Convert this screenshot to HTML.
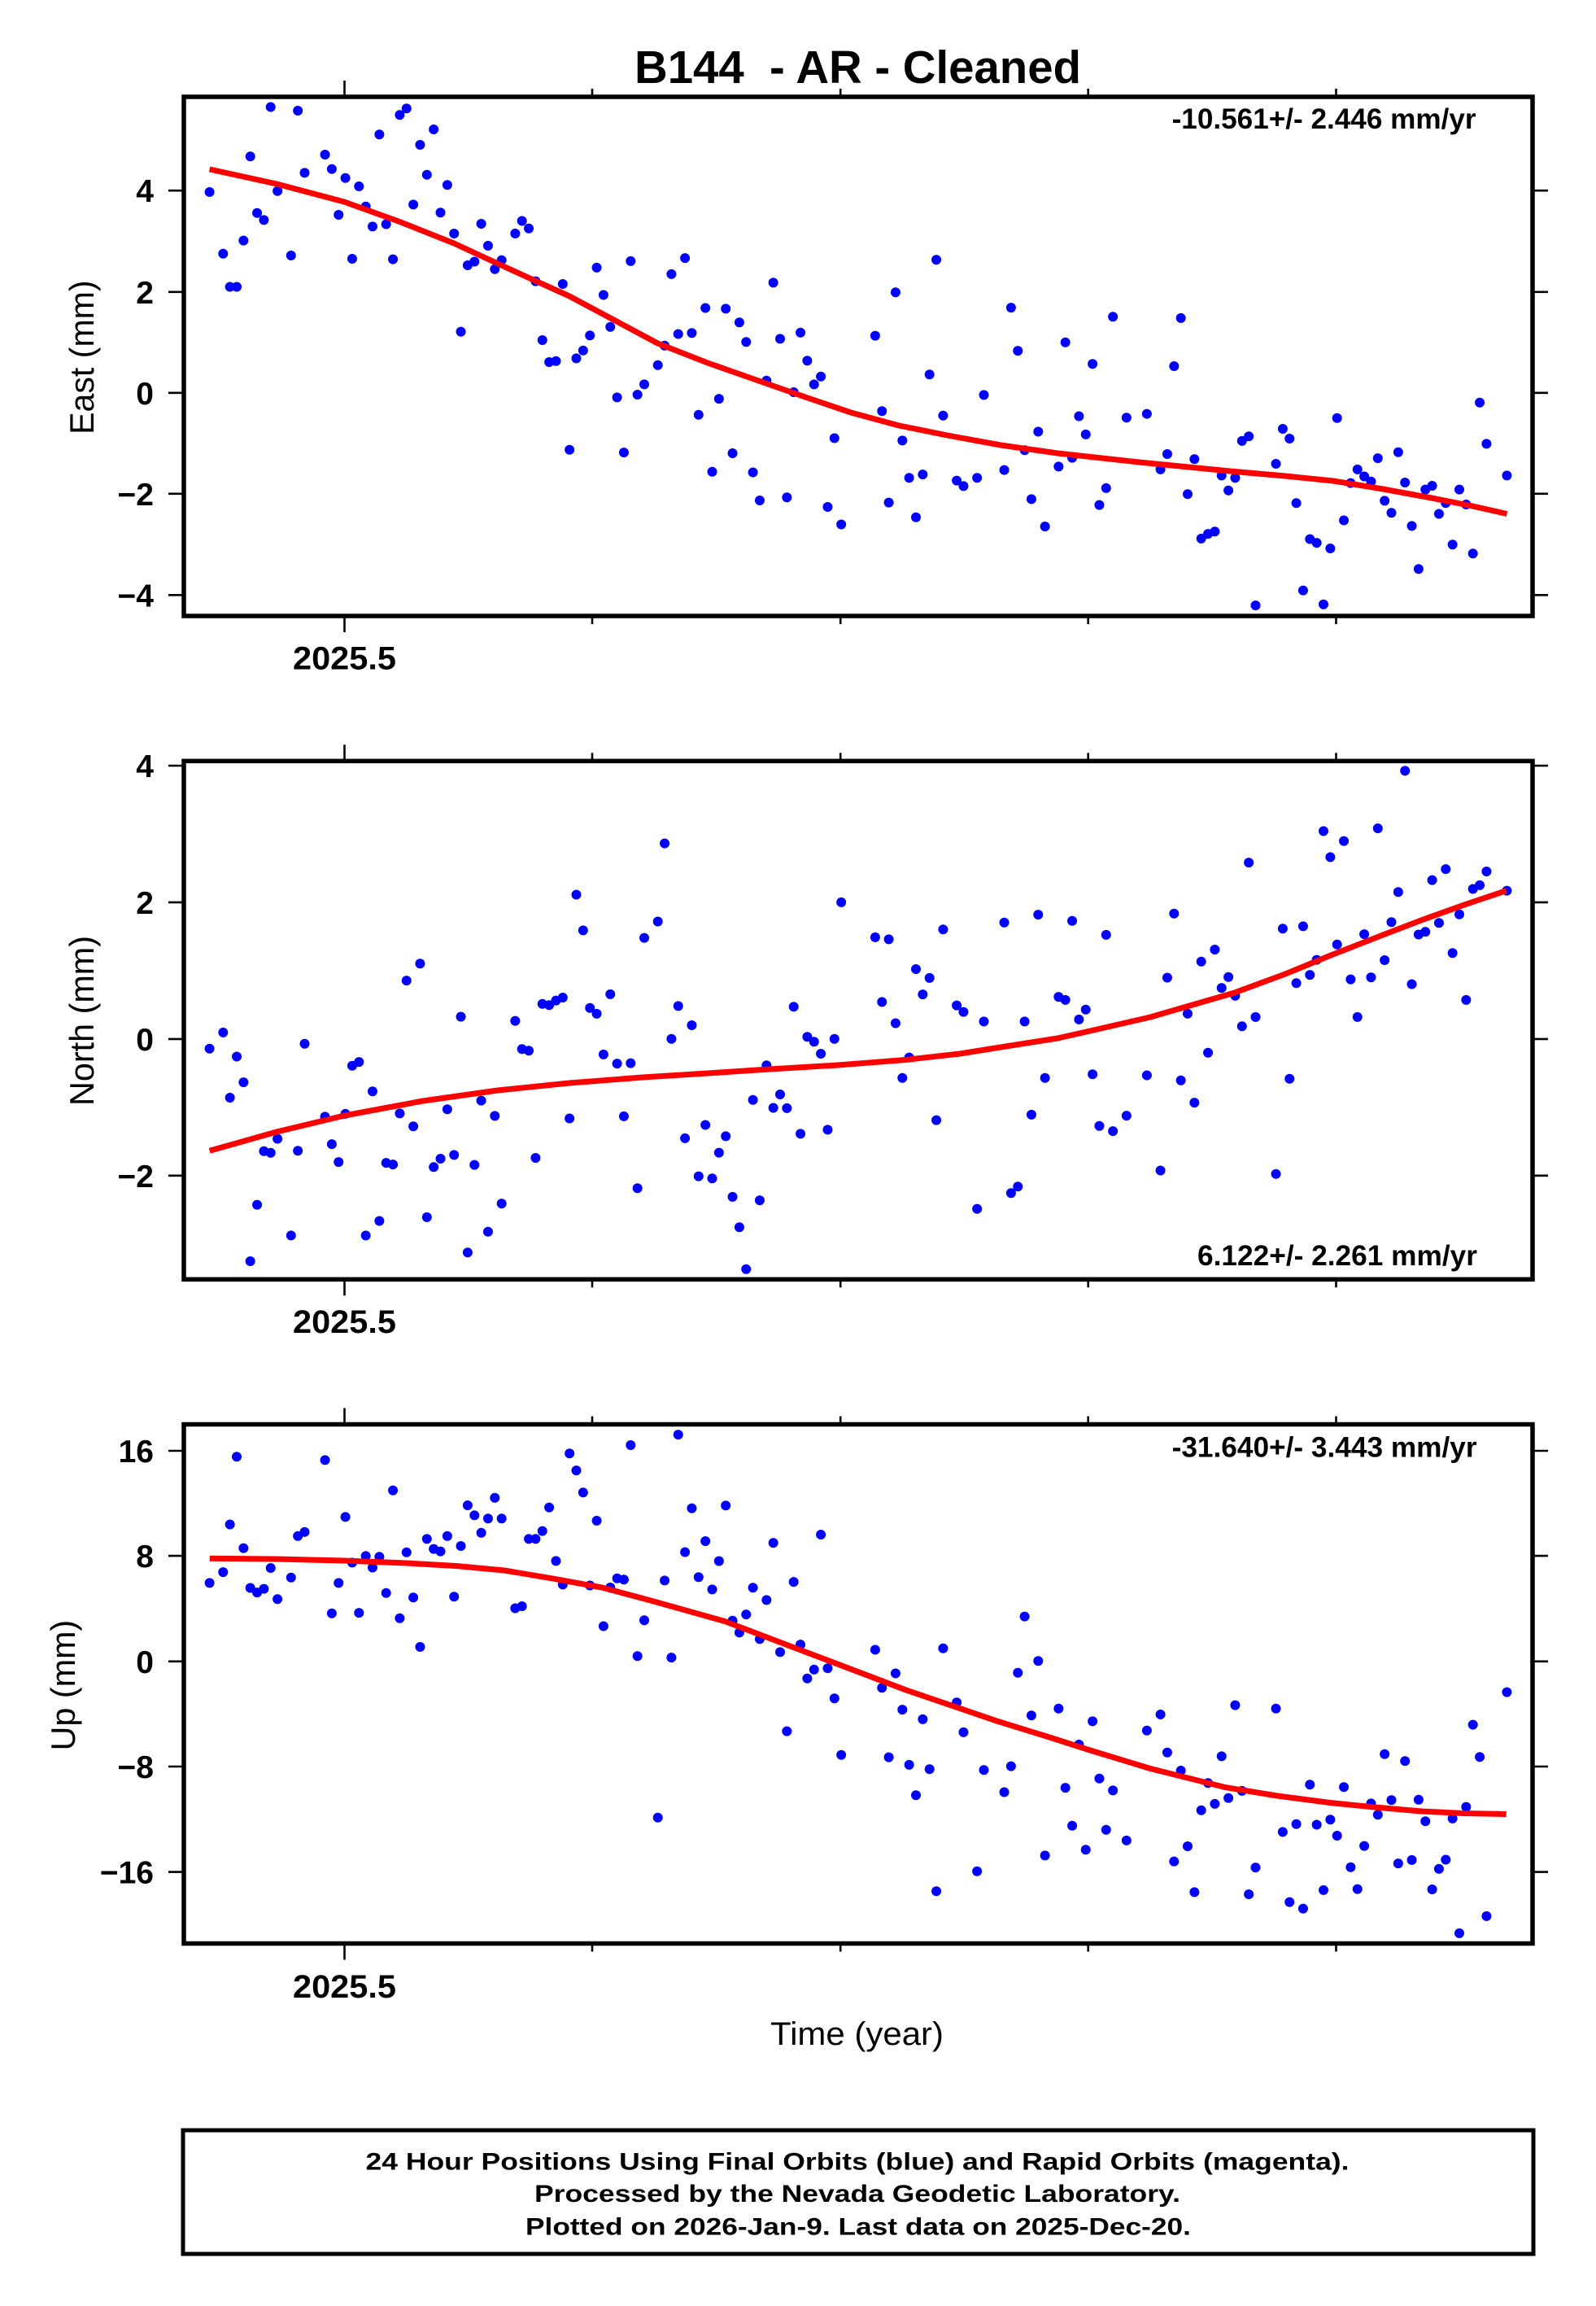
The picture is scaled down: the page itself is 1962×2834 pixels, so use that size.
<!DOCTYPE html>
<html><head><meta charset="utf-8"><style>
html,body{margin:0;padding:0;background:#fff;}
svg{display:block;}
text{font-family:"Liberation Sans",Arial,sans-serif;fill:#000;}
.b{font-weight:bold;}
.d circle{fill:#0000ff;}
.fit{fill:none;stroke:#ff0000;stroke-width:7;stroke-linejoin:round;stroke-linecap:butt;}
.fr{fill:none;stroke:#000;stroke-width:5.5;}
.tk{stroke:#000;stroke-width:2.6;fill:none;}
.yl{font-size:39px;font-weight:bold;text-anchor:end;}
</style></head><body>
<svg width="1962" height="2834" viewBox="0 0 1962 2834" xmlns="http://www.w3.org/2000/svg">
<rect width="1962" height="2834" fill="#fff"/>
<text class="b" x="780" y="102" font-size="57" textLength="549" lengthAdjust="spacingAndGlyphs">B144&#160; - AR - Cleaned</text>

<!-- ============ PANEL 1 ============ -->
<g class="d">
<circle cx="257.6" cy="236" r="6"/><circle cx="274.3" cy="311.7" r="6"/><circle cx="282.65" cy="352.5" r="6"/><circle cx="291" cy="352.5" r="6"/><circle cx="299.35" cy="295.6" r="6"/><circle cx="307.7" cy="192.3" r="6"/><circle cx="316.05" cy="261.8" r="6"/><circle cx="324.4" cy="270.4" r="6"/><circle cx="332.75" cy="131.5" r="6"/><circle cx="341.1" cy="234.8" r="6"/><circle cx="357.8" cy="314" r="6"/><circle cx="366.15" cy="136" r="6"/><circle cx="374.5" cy="212.4" r="6"/><circle cx="399.55" cy="190" r="6"/><circle cx="407.9" cy="207.8" r="6"/><circle cx="416.25" cy="264" r="6"/><circle cx="424.6" cy="218.7" r="6"/><circle cx="432.95" cy="318" r="6"/><circle cx="441.3" cy="229" r="6"/><circle cx="449.65" cy="253.7" r="6"/><circle cx="458" cy="278.4" r="6"/><circle cx="466.35" cy="165.3" r="6"/><circle cx="474.7" cy="275.5" r="6"/><circle cx="483.05" cy="318.6" r="6"/><circle cx="491.4" cy="141.2" r="6"/><circle cx="499.75" cy="133.2" r="6"/><circle cx="508.1" cy="251.4" r="6"/><circle cx="516.45" cy="178" r="6"/><circle cx="524.8" cy="214.7" r="6"/><circle cx="533.15" cy="159" r="6"/><circle cx="541.5" cy="261.2" r="6"/><circle cx="549.85" cy="227.3" r="6"/><circle cx="558.2" cy="287" r="6"/><circle cx="566.55" cy="407.6" r="6"/><circle cx="574.9" cy="326" r="6"/><circle cx="583.25" cy="321.5" r="6"/><circle cx="591.6" cy="275" r="6"/><circle cx="599.95" cy="302" r="6"/><circle cx="608.3" cy="330.7" r="6"/><circle cx="616.65" cy="319.8" r="6"/><circle cx="633.35" cy="287" r="6"/><circle cx="641.7" cy="271.5" r="6"/><circle cx="650.05" cy="280.7" r="6"/><circle cx="658.4" cy="345.6" r="6"/><circle cx="666.75" cy="418" r="6"/><circle cx="675.1" cy="445" r="6"/><circle cx="683.45" cy="443.7" r="6"/><circle cx="691.8" cy="349" r="6"/><circle cx="700.15" cy="552.8" r="6"/><circle cx="708.5" cy="440.4" r="6"/><circle cx="716.85" cy="430.7" r="6"/><circle cx="725.2" cy="412.2" r="6"/><circle cx="733.55" cy="328.9" r="6"/><circle cx="741.9" cy="362.5" r="6"/><circle cx="750.25" cy="401.7" r="6"/><circle cx="758.6" cy="488.4" r="6"/><circle cx="766.95" cy="556.1" r="6"/><circle cx="775.3" cy="320.9" r="6"/><circle cx="783.65" cy="485" r="6"/><circle cx="792" cy="472.4" r="6"/><circle cx="808.7" cy="448.8" r="6"/><circle cx="817.05" cy="424.8" r="6"/><circle cx="825.4" cy="336.9" r="6"/><circle cx="833.75" cy="410.5" r="6"/><circle cx="842.1" cy="317.1" r="6"/><circle cx="850.45" cy="409.2" r="6"/><circle cx="858.8" cy="509.8" r="6"/><circle cx="867.15" cy="378.5" r="6"/><circle cx="875.5" cy="579.7" r="6"/><circle cx="883.85" cy="490.1" r="6"/><circle cx="892.2" cy="379.4" r="6"/><circle cx="900.55" cy="557" r="6"/><circle cx="908.9" cy="396.2" r="6"/><circle cx="917.25" cy="420.2" r="6"/><circle cx="925.6" cy="580.5" r="6"/><circle cx="933.95" cy="615" r="6"/><circle cx="942.3" cy="467.7" r="6"/><circle cx="950.65" cy="347.4" r="6"/><circle cx="959" cy="416.4" r="6"/><circle cx="967.35" cy="611.3" r="6"/><circle cx="975.7" cy="482" r="6"/><circle cx="984.05" cy="408.8" r="6"/><circle cx="992.4" cy="443.3" r="6"/><circle cx="1000.75" cy="472.4" r="6"/><circle cx="1009.1" cy="462.7" r="6"/><circle cx="1017.45" cy="623" r="6"/><circle cx="1025.8" cy="538.5" r="6"/><circle cx="1034.15" cy="644.5" r="6"/><circle cx="1075.9" cy="412.6" r="6"/><circle cx="1084.25" cy="505.2" r="6"/><circle cx="1092.6" cy="617.6" r="6"/><circle cx="1100.95" cy="359.2" r="6"/><circle cx="1109.3" cy="541.4" r="6"/><circle cx="1117.65" cy="587.3" r="6"/><circle cx="1126" cy="635.7" r="6"/><circle cx="1134.35" cy="583.1" r="6"/><circle cx="1142.7" cy="460.2" r="6"/><circle cx="1151.05" cy="319.2" r="6"/><circle cx="1159.4" cy="510.7" r="6"/><circle cx="1176.1" cy="590.6" r="6"/><circle cx="1184.45" cy="597.4" r="6"/><circle cx="1201.15" cy="587.3" r="6"/><circle cx="1209.5" cy="485.4" r="6"/><circle cx="1234.55" cy="577.6" r="6"/><circle cx="1242.9" cy="378.1" r="6"/><circle cx="1251.25" cy="431.1" r="6"/><circle cx="1259.6" cy="553.2" r="6"/><circle cx="1267.95" cy="613.4" r="6"/><circle cx="1276.3" cy="530.5" r="6"/><circle cx="1284.65" cy="647" r="6"/><circle cx="1301.35" cy="573.4" r="6"/><circle cx="1309.7" cy="420.7" r="6"/><circle cx="1318.05" cy="562.6" r="6"/><circle cx="1326.4" cy="511.5" r="6"/><circle cx="1334.75" cy="533.9" r="6"/><circle cx="1343.1" cy="447.2" r="6"/><circle cx="1351.45" cy="620.6" r="6"/><circle cx="1359.8" cy="599.9" r="6"/><circle cx="1368.15" cy="389.2" r="6"/><circle cx="1384.85" cy="513.2" r="6"/><circle cx="1409.9" cy="508.6" r="6"/><circle cx="1426.6" cy="576.9" r="6"/><circle cx="1434.95" cy="558" r="6"/><circle cx="1443.3" cy="450" r="6"/><circle cx="1451.65" cy="390.9" r="6"/><circle cx="1460" cy="607.3" r="6"/><circle cx="1468.35" cy="564.3" r="6"/><circle cx="1476.7" cy="661.9" r="6"/><circle cx="1485.05" cy="656.1" r="6"/><circle cx="1493.4" cy="653.3" r="6"/><circle cx="1501.75" cy="584.4" r="6"/><circle cx="1510.1" cy="602.8" r="6"/><circle cx="1518.45" cy="587.3" r="6"/><circle cx="1526.8" cy="541.9" r="6"/><circle cx="1535.15" cy="536.2" r="6"/><circle cx="1543.5" cy="744" r="6"/><circle cx="1568.55" cy="570" r="6"/><circle cx="1576.9" cy="527" r="6"/><circle cx="1585.25" cy="539" r="6"/><circle cx="1593.6" cy="618.3" r="6"/><circle cx="1601.95" cy="725.6" r="6"/><circle cx="1610.3" cy="662.5" r="6"/><circle cx="1618.65" cy="667.1" r="6"/><circle cx="1627" cy="742.8" r="6"/><circle cx="1635.35" cy="674" r="6"/><circle cx="1643.7" cy="513.8" r="6"/><circle cx="1652.05" cy="639.5" r="6"/><circle cx="1660.4" cy="593.6" r="6"/><circle cx="1668.75" cy="576.9" r="6"/><circle cx="1677.1" cy="585.5" r="6"/><circle cx="1685.45" cy="591.8" r="6"/><circle cx="1693.8" cy="563.1" r="6"/><circle cx="1702.15" cy="615.4" r="6"/><circle cx="1710.5" cy="630.3" r="6"/><circle cx="1718.85" cy="555.7" r="6"/><circle cx="1727.2" cy="593" r="6"/><circle cx="1735.55" cy="646.4" r="6"/><circle cx="1743.9" cy="699.2" r="6"/><circle cx="1752.25" cy="601.6" r="6"/><circle cx="1760.6" cy="597" r="6"/><circle cx="1768.95" cy="631.5" r="6"/><circle cx="1777.3" cy="618.3" r="6"/><circle cx="1785.65" cy="669.3" r="6"/><circle cx="1794" cy="601.6" r="6"/><circle cx="1802.35" cy="620" r="6"/><circle cx="1810.7" cy="680.2" r="6"/><circle cx="1819.05" cy="494.8" r="6"/><circle cx="1827.4" cy="545.4" r="6"/><circle cx="1852.45" cy="584.4" r="6"/>
</g>
<polyline class="fit" points="257.6,208 340,226 423,248 490,272 558,299 625,330 700,364 760,396 808.6,422 870,446 927,466 990,488 1046,507 1105,523 1164.5,535 1230,547 1300,557 1400,568 1512,579 1580,585 1639,591 1700,601 1760,612 1808,621.5 1852.5,631.5"/>
<rect class="fr" x="226" y="119" width="1658" height="638"/>
<path class="tk" d="M423.5 119V99M728 119V109M1033.2 119V109M1337.7 119V109M1642.5 119V109M423.5 757V777M728 757V767M1033.2 757V767M1337.7 757V767M1642.5 757V767M226 234.2H207M226 358.8H207M226 482.8H207M226 606.8H207M226 731.3H207M1884 234.2H1903M1884 358.8H1903M1884 482.8H1903M1884 606.8H1903M1884 731.3H1903"/>
<text class="yl" x="189" y="248.2">4</text>
<text class="yl" x="189" y="372.8">2</text>
<text class="yl" x="189" y="496.8">0</text>
<text class="yl" x="189" y="620.8">−2</text>
<text class="yl" x="189" y="745.3">−4</text>
<text class="b" x="360" y="822.6" font-size="40" textLength="127" lengthAdjust="spacingAndGlyphs">2025.5</text>
<text transform="translate(115,533.9) rotate(-90)" x="0" y="0" font-size="42" textLength="189.5" lengthAdjust="spacingAndGlyphs">East (mm)</text>
<text class="b" x="1440.6" y="158" font-size="35" textLength="374" lengthAdjust="spacingAndGlyphs">-10.561+/- 2.446 mm/yr</text>

<!-- ============ PANEL 2 ============ -->
<g class="d">
<circle cx="257.6" cy="1288.8" r="6"/><circle cx="274.3" cy="1268.9" r="6"/><circle cx="282.65" cy="1349" r="6"/><circle cx="291" cy="1298.5" r="6"/><circle cx="299.35" cy="1330.1" r="6"/><circle cx="307.7" cy="1550" r="6"/><circle cx="316.05" cy="1480.6" r="6"/><circle cx="324.4" cy="1414.8" r="6"/><circle cx="332.75" cy="1416.8" r="6"/><circle cx="341.1" cy="1399.5" r="6"/><circle cx="357.8" cy="1518.4" r="6"/><circle cx="366.15" cy="1414.3" r="6"/><circle cx="374.5" cy="1282.7" r="6"/><circle cx="399.55" cy="1372.4" r="6"/><circle cx="407.9" cy="1406.1" r="6"/><circle cx="416.25" cy="1428.1" r="6"/><circle cx="424.6" cy="1368.9" r="6"/><circle cx="432.95" cy="1309.7" r="6"/><circle cx="441.3" cy="1305.1" r="6"/><circle cx="449.65" cy="1518.4" r="6"/><circle cx="458" cy="1341.3" r="6"/><circle cx="466.35" cy="1500.5" r="6"/><circle cx="474.7" cy="1429.1" r="6"/><circle cx="483.05" cy="1431.1" r="6"/><circle cx="491.4" cy="1368.4" r="6"/><circle cx="499.75" cy="1205.1" r="6"/><circle cx="508.1" cy="1384.2" r="6"/><circle cx="516.45" cy="1184.2" r="6"/><circle cx="524.8" cy="1495.9" r="6"/><circle cx="533.15" cy="1434.2" r="6"/><circle cx="541.5" cy="1424" r="6"/><circle cx="549.85" cy="1363.3" r="6"/><circle cx="558.2" cy="1419.4" r="6"/><circle cx="566.55" cy="1249.5" r="6"/><circle cx="574.9" cy="1539.3" r="6"/><circle cx="583.25" cy="1431.6" r="6"/><circle cx="591.6" cy="1352.6" r="6"/><circle cx="599.95" cy="1513.8" r="6"/><circle cx="608.3" cy="1371.4" r="6"/><circle cx="616.65" cy="1479.1" r="6"/><circle cx="633.35" cy="1254.6" r="6"/><circle cx="641.7" cy="1289.3" r="6"/><circle cx="650.05" cy="1291.3" r="6"/><circle cx="658.4" cy="1423" r="6"/><circle cx="666.75" cy="1233.7" r="6"/><circle cx="675.1" cy="1235.2" r="6"/><circle cx="683.45" cy="1229.6" r="6"/><circle cx="691.8" cy="1226" r="6"/><circle cx="700.15" cy="1374.5" r="6"/><circle cx="708.5" cy="1099.5" r="6"/><circle cx="716.85" cy="1143.4" r="6"/><circle cx="725.2" cy="1238.8" r="6"/><circle cx="733.55" cy="1245.9" r="6"/><circle cx="741.9" cy="1295.9" r="6"/><circle cx="750.25" cy="1221.9" r="6"/><circle cx="758.6" cy="1307.1" r="6"/><circle cx="766.95" cy="1371.9" r="6"/><circle cx="775.3" cy="1306.6" r="6"/><circle cx="783.65" cy="1460.2" r="6"/><circle cx="792" cy="1152.6" r="6"/><circle cx="808.7" cy="1132.5" r="6"/><circle cx="817.05" cy="1036.5" r="6"/><circle cx="825.4" cy="1276.8" r="6"/><circle cx="833.75" cy="1236.4" r="6"/><circle cx="842.1" cy="1398.9" r="6"/><circle cx="850.45" cy="1260" r="6"/><circle cx="858.8" cy="1445.6" r="6"/><circle cx="867.15" cy="1382.5" r="6"/><circle cx="875.5" cy="1448.2" r="6"/><circle cx="883.85" cy="1416.6" r="6"/><circle cx="892.2" cy="1396.4" r="6"/><circle cx="900.55" cy="1470.9" r="6"/><circle cx="908.9" cy="1508.3" r="6"/><circle cx="917.25" cy="1559.7" r="6"/><circle cx="925.6" cy="1351.8" r="6"/><circle cx="933.95" cy="1475.1" r="6"/><circle cx="942.3" cy="1309.3" r="6"/><circle cx="950.65" cy="1361.5" r="6"/><circle cx="959" cy="1345" r="6"/><circle cx="967.35" cy="1361.9" r="6"/><circle cx="975.7" cy="1237.3" r="6"/><circle cx="984.05" cy="1393.4" r="6"/><circle cx="992.4" cy="1274.3" r="6"/><circle cx="1000.75" cy="1280.2" r="6"/><circle cx="1009.1" cy="1295" r="6"/><circle cx="1017.45" cy="1388.4" r="6"/><circle cx="1025.8" cy="1276.8" r="6"/><circle cx="1034.15" cy="1108.9" r="6"/><circle cx="1075.9" cy="1151.9" r="6"/><circle cx="1084.25" cy="1231.4" r="6"/><circle cx="1092.6" cy="1154.4" r="6"/><circle cx="1100.95" cy="1257.5" r="6"/><circle cx="1109.3" cy="1324.8" r="6"/><circle cx="1117.65" cy="1299.6" r="6"/><circle cx="1126" cy="1191" r="6"/><circle cx="1134.35" cy="1222.1" r="6"/><circle cx="1142.7" cy="1201.9" r="6"/><circle cx="1151.05" cy="1376.6" r="6"/><circle cx="1159.4" cy="1142.2" r="6"/><circle cx="1176.1" cy="1235.6" r="6"/><circle cx="1184.45" cy="1243.6" r="6"/><circle cx="1201.15" cy="1485.6" r="6"/><circle cx="1209.5" cy="1255.4" r="6"/><circle cx="1234.55" cy="1133.8" r="6"/><circle cx="1242.9" cy="1466.2" r="6"/><circle cx="1251.25" cy="1458.3" r="6"/><circle cx="1259.6" cy="1255.4" r="6"/><circle cx="1267.95" cy="1369.9" r="6"/><circle cx="1276.3" cy="1124.1" r="6"/><circle cx="1284.65" cy="1324.8" r="6"/><circle cx="1301.35" cy="1225.1" r="6"/><circle cx="1309.7" cy="1228.9" r="6"/><circle cx="1318.05" cy="1131.7" r="6"/><circle cx="1326.4" cy="1252.9" r="6"/><circle cx="1334.75" cy="1240.7" r="6"/><circle cx="1343.1" cy="1320.2" r="6"/><circle cx="1351.45" cy="1383.8" r="6"/><circle cx="1359.8" cy="1148.9" r="6"/><circle cx="1368.15" cy="1390.1" r="6"/><circle cx="1384.85" cy="1371.1" r="6"/><circle cx="1409.9" cy="1321.5" r="6"/><circle cx="1426.6" cy="1438.5" r="6"/><circle cx="1434.95" cy="1201.5" r="6"/><circle cx="1443.3" cy="1122.8" r="6"/><circle cx="1451.65" cy="1327.8" r="6"/><circle cx="1460" cy="1245.7" r="6"/><circle cx="1468.35" cy="1355.1" r="6"/><circle cx="1476.7" cy="1181.7" r="6"/><circle cx="1485.05" cy="1293.7" r="6"/><circle cx="1493.4" cy="1167" r="6"/><circle cx="1501.75" cy="1214.1" r="6"/><circle cx="1510.1" cy="1200.7" r="6"/><circle cx="1518.45" cy="1223.8" r="6"/><circle cx="1526.8" cy="1261.3" r="6"/><circle cx="1535.15" cy="1060.1" r="6"/><circle cx="1543.5" cy="1249.9" r="6"/><circle cx="1568.55" cy="1442.7" r="6"/><circle cx="1576.9" cy="1141.3" r="6"/><circle cx="1585.25" cy="1325.7" r="6"/><circle cx="1593.6" cy="1208.3" r="6"/><circle cx="1601.95" cy="1138.4" r="6"/><circle cx="1610.3" cy="1198.1" r="6"/><circle cx="1618.65" cy="1179.6" r="6"/><circle cx="1627" cy="1021.4" r="6"/><circle cx="1635.35" cy="1053.4" r="6"/><circle cx="1643.7" cy="1160.7" r="6"/><circle cx="1652.05" cy="1033.6" r="6"/><circle cx="1660.4" cy="1203.6" r="6"/><circle cx="1668.75" cy="1249.9" r="6"/><circle cx="1677.1" cy="1148.1" r="6"/><circle cx="1685.45" cy="1201.1" r="6"/><circle cx="1693.8" cy="1018" r="6"/><circle cx="1702.15" cy="1180" r="6"/><circle cx="1710.5" cy="1133.3" r="6"/><circle cx="1718.85" cy="1096.3" r="6"/><circle cx="1727.2" cy="947.3" r="6"/><circle cx="1735.55" cy="1209.5" r="6"/><circle cx="1743.9" cy="1148.5" r="6"/><circle cx="1752.25" cy="1145.1" r="6"/><circle cx="1760.6" cy="1081.6" r="6"/><circle cx="1768.95" cy="1134.2" r="6"/><circle cx="1777.3" cy="1068.1" r="6"/><circle cx="1785.65" cy="1171.2" r="6"/><circle cx="1794" cy="1123.7" r="6"/><circle cx="1802.35" cy="1228.9" r="6"/><circle cx="1810.7" cy="1092.5" r="6"/><circle cx="1819.05" cy="1087.9" r="6"/><circle cx="1827.4" cy="1071" r="6"/><circle cx="1852.45" cy="1094.6" r="6"/>
</g>
<polyline class="fit" points="257.7,1414.3 340,1391 423.5,1371 520,1353 612,1340 700,1331 790,1324 870,1319 942,1314.3 1030,1309 1113,1302.5 1180,1295 1242.5,1285 1300,1276 1340,1267 1414,1250 1517.6,1220 1580,1197 1636,1174 1700,1149 1747,1131 1800,1112 1851.7,1094.6"/>
<rect class="fr" x="226" y="935.3" width="1658" height="637"/>
<path class="tk" d="M423.5 935.3V915.3M728 935.3V925.3M1033.2 935.3V925.3M1337.7 935.3V925.3M1642.5 935.3V925.3M423.5 1572.3V1592.3M728 1572.3V1582.3M1033.2 1572.3V1582.3M1337.7 1572.3V1582.3M1642.5 1572.3V1582.3M226 941H207M226 1108.9H207M226 1276.9H207M226 1444.8H207M1884 941H1903M1884 1108.9H1903M1884 1276.9H1903M1884 1444.8H1903"/>
<text class="yl" x="189" y="955">4</text>
<text class="yl" x="189" y="1122.9">2</text>
<text class="yl" x="189" y="1290.9">0</text>
<text class="yl" x="189" y="1458.8">−2</text>
<text class="b" x="360" y="1638" font-size="40" textLength="127" lengthAdjust="spacingAndGlyphs">2025.5</text>
<text transform="translate(114.8,1359) rotate(-90)" x="0" y="0" font-size="42" textLength="209" lengthAdjust="spacingAndGlyphs">North (mm)</text>
<text class="b" x="1472" y="1555" font-size="35" textLength="344" lengthAdjust="spacingAndGlyphs">6.122+/- 2.261 mm/yr</text>

<!-- ============ PANEL 3 ============ -->
<g class="d">
<circle cx="257.6" cy="1945.4" r="6"/><circle cx="274.3" cy="1932.1" r="6"/><circle cx="282.65" cy="1873.5" r="6"/><circle cx="291" cy="1790.3" r="6"/><circle cx="299.35" cy="1902.6" r="6"/><circle cx="307.7" cy="1951.5" r="6"/><circle cx="316.05" cy="1957.1" r="6"/><circle cx="324.4" cy="1952.6" r="6"/><circle cx="332.75" cy="1927" r="6"/><circle cx="341.1" cy="1965.3" r="6"/><circle cx="357.8" cy="1938.8" r="6"/><circle cx="366.15" cy="1887.8" r="6"/><circle cx="374.5" cy="1882.7" r="6"/><circle cx="399.55" cy="1794.4" r="6"/><circle cx="407.9" cy="1982.7" r="6"/><circle cx="416.25" cy="1945.4" r="6"/><circle cx="424.6" cy="1864.3" r="6"/><circle cx="432.95" cy="1920.4" r="6"/><circle cx="441.3" cy="1982.1" r="6"/><circle cx="449.65" cy="1912.2" r="6"/><circle cx="458" cy="1926.5" r="6"/><circle cx="466.35" cy="1913.3" r="6"/><circle cx="474.7" cy="1957.7" r="6"/><circle cx="483.05" cy="1831.6" r="6"/><circle cx="491.4" cy="1988.8" r="6"/><circle cx="499.75" cy="1907.7" r="6"/><circle cx="508.1" cy="1963.3" r="6"/><circle cx="516.45" cy="2024" r="6"/><circle cx="524.8" cy="1891.3" r="6"/><circle cx="533.15" cy="1903.6" r="6"/><circle cx="541.5" cy="1906.6" r="6"/><circle cx="549.85" cy="1887.8" r="6"/><circle cx="558.2" cy="1962.2" r="6"/><circle cx="566.55" cy="1900" r="6"/><circle cx="574.9" cy="1850" r="6"/><circle cx="583.25" cy="1862.2" r="6"/><circle cx="591.6" cy="1883.7" r="6"/><circle cx="599.95" cy="1866.3" r="6"/><circle cx="608.3" cy="1840.8" r="6"/><circle cx="616.65" cy="1866.3" r="6"/><circle cx="633.35" cy="1976.5" r="6"/><circle cx="641.7" cy="1974" r="6"/><circle cx="650.05" cy="1891.3" r="6"/><circle cx="658.4" cy="1891.3" r="6"/><circle cx="666.75" cy="1881.6" r="6"/><circle cx="675.1" cy="1852.6" r="6"/><circle cx="683.45" cy="1918.4" r="6"/><circle cx="691.8" cy="1947.4" r="6"/><circle cx="700.15" cy="1786.2" r="6"/><circle cx="708.5" cy="1807.1" r="6"/><circle cx="716.85" cy="1834.2" r="6"/><circle cx="725.2" cy="1948.5" r="6"/><circle cx="733.55" cy="1868.9" r="6"/><circle cx="741.9" cy="1998.5" r="6"/><circle cx="750.25" cy="1951" r="6"/><circle cx="758.6" cy="1939.8" r="6"/><circle cx="766.95" cy="1941.3" r="6"/><circle cx="775.3" cy="1776" r="6"/><circle cx="783.65" cy="2035.2" r="6"/><circle cx="792" cy="1991.3" r="6"/><circle cx="808.7" cy="2233.7" r="6"/><circle cx="817.05" cy="1942.4" r="6"/><circle cx="825.4" cy="2037.1" r="6"/><circle cx="833.75" cy="1763.1" r="6"/><circle cx="842.1" cy="1907.5" r="6"/><circle cx="850.45" cy="1853.6" r="6"/><circle cx="858.8" cy="1938.2" r="6"/><circle cx="867.15" cy="1894" r="6"/><circle cx="875.5" cy="1953.4" r="6"/><circle cx="883.85" cy="1918.5" r="6"/><circle cx="892.2" cy="1850.3" r="6"/><circle cx="900.55" cy="1991.7" r="6"/><circle cx="908.9" cy="2006.4" r="6"/><circle cx="917.25" cy="1984.1" r="6"/><circle cx="925.6" cy="1951.3" r="6"/><circle cx="933.95" cy="2014.4" r="6"/><circle cx="942.3" cy="1966.4" r="6"/><circle cx="950.65" cy="1896.1" r="6"/><circle cx="959" cy="2030.4" r="6"/><circle cx="967.35" cy="2127.6" r="6"/><circle cx="975.7" cy="1944.1" r="6"/><circle cx="984.05" cy="2021.1" r="6"/><circle cx="992.4" cy="2062.8" r="6"/><circle cx="1000.75" cy="2051.9" r="6"/><circle cx="1009.1" cy="1886" r="6"/><circle cx="1017.45" cy="2050.2" r="6"/><circle cx="1025.8" cy="2087.2" r="6"/><circle cx="1034.15" cy="2156.7" r="6"/><circle cx="1075.9" cy="2027.5" r="6"/><circle cx="1084.25" cy="2074.2" r="6"/><circle cx="1092.6" cy="2159.6" r="6"/><circle cx="1100.95" cy="2056.5" r="6"/><circle cx="1109.3" cy="2101.1" r="6"/><circle cx="1117.65" cy="2168.9" r="6"/><circle cx="1126" cy="2206.3" r="6"/><circle cx="1134.35" cy="2112.9" r="6"/><circle cx="1142.7" cy="2174.3" r="6"/><circle cx="1151.05" cy="2324.2" r="6"/><circle cx="1159.4" cy="2025.8" r="6"/><circle cx="1176.1" cy="2092.3" r="6"/><circle cx="1184.45" cy="2128.9" r="6"/><circle cx="1201.15" cy="2299.8" r="6"/><circle cx="1209.5" cy="2175.2" r="6"/><circle cx="1234.55" cy="2202.5" r="6"/><circle cx="1242.9" cy="2170.6" r="6"/><circle cx="1251.25" cy="2055.7" r="6"/><circle cx="1259.6" cy="1986.6" r="6"/><circle cx="1267.95" cy="2108.3" r="6"/><circle cx="1276.3" cy="2041.3" r="6"/><circle cx="1284.65" cy="2280.4" r="6"/><circle cx="1301.35" cy="2099.8" r="6"/><circle cx="1309.7" cy="2197.1" r="6"/><circle cx="1318.05" cy="2243.8" r="6"/><circle cx="1326.4" cy="2144" r="6"/><circle cx="1334.75" cy="2273.2" r="6"/><circle cx="1343.1" cy="2115.4" r="6"/><circle cx="1351.45" cy="2185.7" r="6"/><circle cx="1359.8" cy="2248.8" r="6"/><circle cx="1368.15" cy="2200.4" r="6"/><circle cx="1384.85" cy="2261.9" r="6"/><circle cx="1409.9" cy="2126.8" r="6"/><circle cx="1426.6" cy="2107" r="6"/><circle cx="1434.95" cy="2153.7" r="6"/><circle cx="1443.3" cy="2287.6" r="6"/><circle cx="1451.65" cy="2176" r="6"/><circle cx="1460" cy="2269" r="6"/><circle cx="1468.35" cy="2325.4" r="6"/><circle cx="1476.7" cy="2224.8" r="6"/><circle cx="1485.05" cy="2191.2" r="6"/><circle cx="1493.4" cy="2216.9" r="6"/><circle cx="1501.75" cy="2158.4" r="6"/><circle cx="1510.1" cy="2209.7" r="6"/><circle cx="1518.45" cy="2095.6" r="6"/><circle cx="1526.8" cy="2200.9" r="6"/><circle cx="1535.15" cy="2328" r="6"/><circle cx="1543.5" cy="2295.1" r="6"/><circle cx="1568.55" cy="2099.8" r="6"/><circle cx="1576.9" cy="2251.4" r="6"/><circle cx="1585.25" cy="2337.6" r="6"/><circle cx="1593.6" cy="2241.7" r="6"/><circle cx="1601.95" cy="2345.6" r="6"/><circle cx="1610.3" cy="2193.3" r="6"/><circle cx="1618.65" cy="2242.5" r="6"/><circle cx="1627" cy="2322.9" r="6"/><circle cx="1635.35" cy="2236.2" r="6"/><circle cx="1643.7" cy="2256" r="6"/><circle cx="1652.05" cy="2196.2" r="6"/><circle cx="1660.4" cy="2294.7" r="6"/><circle cx="1668.75" cy="2321.6" r="6"/><circle cx="1677.1" cy="2268.6" r="6"/><circle cx="1685.45" cy="2216.4" r="6"/><circle cx="1693.8" cy="2230.3" r="6"/><circle cx="1702.15" cy="2155.8" r="6"/><circle cx="1710.5" cy="2212.2" r="6"/><circle cx="1718.85" cy="2290.1" r="6"/><circle cx="1727.2" cy="2164.2" r="6"/><circle cx="1735.55" cy="2285.9" r="6"/><circle cx="1743.9" cy="2211.8" r="6"/><circle cx="1752.25" cy="2238.3" r="6"/><circle cx="1760.6" cy="2322" r="6"/><circle cx="1768.95" cy="2296.8" r="6"/><circle cx="1777.3" cy="2285.5" r="6"/><circle cx="1785.65" cy="2234.9" r="6"/><circle cx="1794" cy="2375.9" r="6"/><circle cx="1802.35" cy="2220.6" r="6"/><circle cx="1810.7" cy="2119.6" r="6"/><circle cx="1819.05" cy="2159.2" r="6"/><circle cx="1827.4" cy="2354.9" r="6"/><circle cx="1852.45" cy="2079.6" r="6"/>
</g>
<polyline class="fit" points="257.7,1915.3 340,1916 423.5,1918 500,1921 561,1924.5 620,1930 678.6,1939.8 740,1951 800,1967 891,1992.5 1002,2034.6 1113,2076.7 1224,2114.6 1290,2135 1340,2151 1414,2173.5 1506.5,2196.6 1570,2207 1636,2215.6 1690,2221 1747,2226 1800,2228.5 1851.7,2229.5"/>
<rect class="fr" x="226" y="1750.5" width="1658" height="638"/>
<path class="tk" d="M423.5 1750.5V1730.5M728 1750.5V1740.5M1033.2 1750.5V1740.5M1337.7 1750.5V1740.5M1642.5 1750.5V1740.5M423.5 2388.5V2408.5M728 2388.5V2398.5M1033.2 2388.5V2398.5M1337.7 2388.5V2398.5M1642.5 2388.5V2398.5M226 1783H207M226 1912.1H207M226 2041.8H207M226 2171H207M226 2300.6H207M1884 1783H1903M1884 1912.1H1903M1884 2041.8H1903M1884 2171H1903M1884 2300.6H1903"/>
<text class="yl" x="189" y="1797">16</text>
<text class="yl" x="189" y="1926.1">8</text>
<text class="yl" x="189" y="2055.8">0</text>
<text class="yl" x="189" y="2185">−8</text>
<text class="yl" x="189" y="2314.6">−16</text>
<text class="b" x="360" y="2455" font-size="40" textLength="127" lengthAdjust="spacingAndGlyphs">2025.5</text>
<text transform="translate(91.8,2151.5) rotate(-90)" x="0" y="0" font-size="42" textLength="160.7" lengthAdjust="spacingAndGlyphs">Up (mm)</text>
<text class="b" x="1440.6" y="1790.5" font-size="35" textLength="375" lengthAdjust="spacingAndGlyphs">-31.640+/- 3.443 mm/yr</text>

<!-- x axis title -->
<text x="947" y="2513" font-size="40" textLength="213" lengthAdjust="spacingAndGlyphs">Time (year)</text>

<!-- footer -->
<rect x="225" y="2618" width="1660" height="152" fill="none" stroke="#000" stroke-width="5"/>
<text class="b" x="449.5" y="2666.7" font-size="30" textLength="1209" lengthAdjust="spacingAndGlyphs">24 Hour Positions Using Final Orbits (blue) and Rapid Orbits (magenta).</text>
<text class="b" x="657" y="2706" font-size="30" textLength="794" lengthAdjust="spacingAndGlyphs">Processed by the Nevada Geodetic Laboratory.</text>
<text class="b" x="646" y="2746.7" font-size="30" textLength="818" lengthAdjust="spacingAndGlyphs">Plotted on 2026-Jan-9. Last data on 2025-Dec-20.</text>
</svg>
</body></html>
